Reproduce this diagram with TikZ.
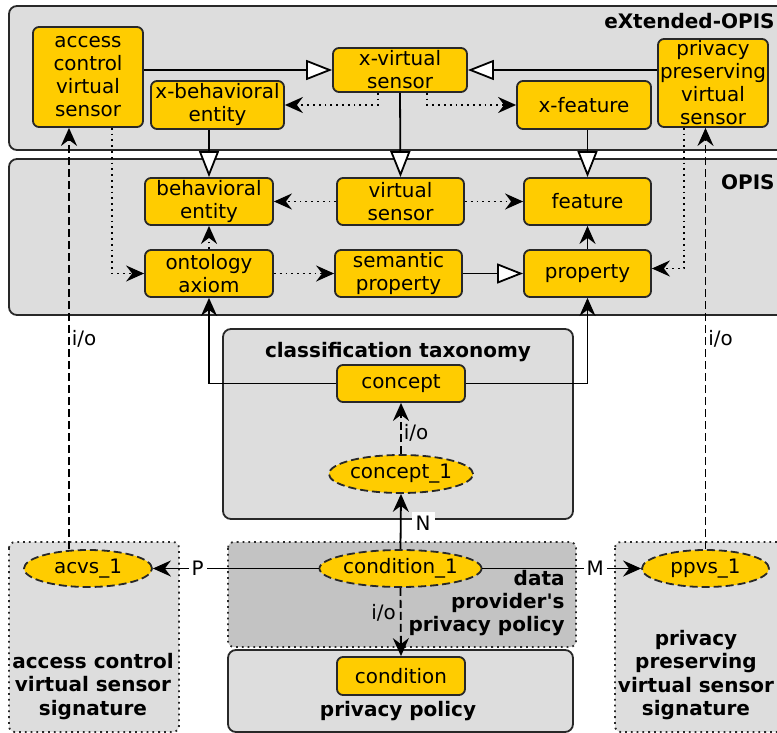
\documentclass[tikz,border=0pt]{standalone}
\usepackage{fontspec}
\setmainfont{DejaVu Sans}
\usetikzlibrary{arrows.meta, shapes.geometric}

\definecolor{opisyellow}{RGB}{255,204,0}
\definecolor{opisgrey}{RGB}{221,221,221}
\definecolor{policygrey}{RGB}{195,195,195}
\definecolor{edgegrey}{RGB}{40,40,40}

\tikzset{
  concept box/.style={draw=edgegrey, fill=opisyellow, line width=0.9pt, rounded corners=3pt, align=center, inner sep=0pt},
  individual/.style={ellipse, draw=edgegrey, fill=opisyellow, line width=0.9pt, dash pattern=on 4pt off 2pt, inner sep=0pt},
  layer/.style={draw=edgegrey, fill=opisgrey, line width=0.9pt, rounded corners=4pt},
  signature/.style={draw=edgegrey, line width=0.9pt, dotted, rounded corners=3pt},
  title/.style={font=\bfseries\fontsize{10pt}{11.6pt}\selectfont, align=center, inner sep=0pt},
  isa/.style={line width=0.9pt, -{Triangle[fill=white, length=13pt, width=10pt]}},
  uses/.style={line width=0.9pt, -{Stealth[length=9pt, width=8pt, inset=3pt]}},
  refers/.style={uses, dotted},
  io/.style={uses, dash pattern=on 4pt off 2pt},
}

\begin{document}
\begin{tikzpicture}[x=0.5pt, y=-0.5pt, every node/.style={font=\fontsize{9.95pt}{11.5pt}\selectfont}]
  \useasboundingbox (0,0) rectangle (777,733);

  % layers
  \draw[layer] (9,6) rectangle (800,150);
  \draw[layer] (9,159) rectangle (800,315);
  \draw[layer] (223,329) rectangle (573,519);
  \draw[signature, fill=policygrey] (228,542) rectangle (576,647);
  \draw[layer] (228,650) rectangle (573,732);
  \draw[signature, fill=opisgrey] (9,542) rectangle (179,732);
  \draw[signature, fill=opisgrey] (615,542) rectangle (800,732);

  \node[title, anchor=east] (xopis) at (775,21) {eXtended-OPIS};
  \node[title, anchor=east] (opis) at (775,182) {OPIS};
  \node[title] (taxonomy) at (398,352) {classification taxonomy};
  \node[title, align=right, anchor=east] (dppolicy) at (565,603) {data\\provider\textquotesingle s\\privacy policy};
  \node[title] (ppolicy) at (398,711) {privacy policy};
  \node[title] (acvsig) at (93,686.5) {access control\\virtual sensor\\signature};
  \node[title] (ppvsig) at (696,675) {privacy\\preserving\\virtual sensor\\signature};

  % eXtended-OPIS
  \node[concept box, minimum width=55pt, minimum height=50pt] (acvsensor) at (88,77) {access\\control\\virtual\\sensor};
  \node[concept box, minimum width=67pt, minimum height=22pt] (xvsensor) at (400,70) {x-virtual\\sensor};
  \node[concept box, minimum width=66.5pt, minimum height=24pt] (xbentity) at (217.5,105) {x-behavioral\\entity};
  \node[concept box, minimum width=67pt, minimum height=24pt] (xfeature) at (584,105) {x-feature};
  \node[concept box, minimum width=55pt, minimum height=44pt] (ppvsensor) at (713,83) {privacy\\preserving\\virtual\\sensor};

  % OPIS
  \node[concept box, minimum width=64pt, minimum height=23.5pt] (bentity) at (209,201.5) {behavioral\\entity};
  \node[concept box, minimum width=63.5pt, minimum height=23.5pt] (vsensor) at (400.5,201.5) {virtual\\sensor};
  \node[concept box, minimum width=63.5pt, minimum height=23.5pt] (feature) at (587.5,201.5) {feature};
  \node[concept box, minimum width=64pt, minimum height=23.5pt] (oaxiom) at (209,273.5) {ontology\\axiom};
  \node[concept box, minimum width=63.5pt, minimum height=23.5pt] (sproperty) at (398.5,273.5) {semantic\\property};
  \node[concept box, minimum width=63.5pt, minimum height=23.5pt] (property) at (587.5,273.5) {property};

  % taxonomy and policies
  \node[concept box, minimum width=64pt, minimum height=18.5pt] (concept) at (401,383.5) {concept};
  \node[individual, minimum width=64pt, minimum height=19pt] (conceptone) at (401,474) {concept\_1};
  \node[individual, minimum width=74.5pt, minimum height=18.5pt] (conditionone) at (400.5,568.5) {condition\_1};
  \node[concept box, minimum width=64pt, minimum height=19pt] (condition) at (401,676) {condition};
  \node[individual, minimum width=64pt, minimum height=18.5pt] (acvsone) at (88,568.5) {acvs\_1};
  \node[individual, minimum width=63.5pt, minimum height=18.5pt] (ppvsone) at (705.5,568.5) {ppvs\_1};

  % specialisation
  \draw[isa] (acvsensor.east |- xvsensor.west) -- (xvsensor.west);
  \draw[isa] (ppvsensor.west |- xvsensor.east) -- (xvsensor.east);
  \draw[isa] (bentity.north |- xbentity.south) -- (bentity.north);
  \draw[isa] (xvsensor.south) -- (vsensor.north);
  \draw[isa] (feature.north |- xfeature.south) -- (feature.north);
  \draw[isa] (sproperty.east) -- (property.west);

  % references
  \draw[refers] ([xshift=-11pt]xvsensor.south) |- (xbentity.east);
  \draw[refers] ([xshift=13.5pt]xvsensor.south) |- (xfeature.west);
  \draw[refers] (vsensor.west) -- (bentity.east);
  \draw[refers] (vsensor.east) -- (feature.west);
  \draw[refers] (oaxiom.north) -- (bentity.south);
  \draw[refers] (oaxiom.east) -- (sproperty.west);
  \draw[refers] ([xshift=12pt]acvsensor.south) |- (oaxiom.west);
  \draw[refers] ([xshift=-14.5pt]ppvsensor.south) |- ([yshift=2.5pt]property.east);
  \draw[uses] (property.north) -- (feature.south);
  \draw[uses] (concept.west) -| (oaxiom.south);
  \draw[uses] (concept.east) -| (property.south);

  % instances
  \draw[io] (conceptone.north) -- (concept.south) node[pos=0.42, right, inner sep=1pt] (iotax) {i/o};
  \draw[uses] (conditionone.north) -- (conceptone.south) node[pos=0.47, right=5pt, fill=white, inner sep=2pt] (nlabel) {N};
  \draw[uses] (conditionone.west) -- (acvsone.east) node[pos=0.73, fill=white, inner sep=1.5pt] (plabel) {P};
  \draw[uses] (conditionone.east) -- (ppvsone.west) node[pos=0.71, fill=white, inner sep=1.5pt] (mlabel) {M};
  \draw[io] (conditionone.south) -- (condition.north) node[pos=0.36, left, inner sep=2pt] (iopolicy) {i/o};
  \draw[io] ([xshift=-9.5pt]acvsone.north) -- ([xshift=-9.5pt]acvsensor.south) node[pos=0.5, right, inner sep=1pt] (ioacvs) {i/o};
  \draw[io] (ppvsone.north) -- (ppvsone.north |- ppvsensor.south) node[pos=0.5, right, inner sep=1pt] (ioppvs) {i/o};
\end{tikzpicture}
\end{document}
